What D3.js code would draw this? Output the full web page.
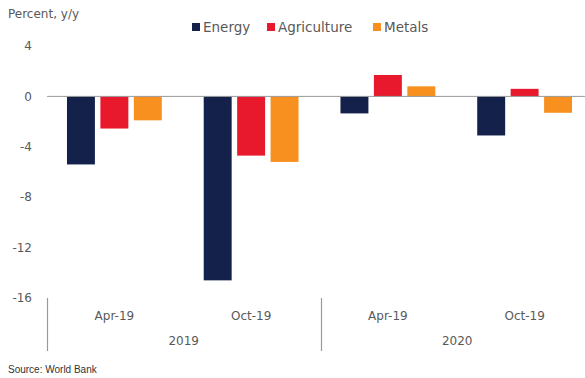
<!DOCTYPE html>
<html>
<head>
<meta charset="utf-8">
<script src="https://cdn.jsdelivr.net/npm/d3@7"></script>
<style>
  body { margin: 0; background: #fff; }
  svg text { font-family: "DejaVu Sans", Verdana, sans-serif; fill: #595959; }
</style>
</head>
<body>
<div id="chart"></div>
<script>
// data
const years = ['2019', '2020'];
const months = ['Apr-19', 'Oct-19'];
const seriesNames = ['Energy', 'Agriculture', 'Metals'];
const energy = [-5.4, -14.6, -1.35, -3.1];
const agriculture = [-2.55, -4.7, 1.7, 0.6];
const metals = [-1.9, -5.2, 0.8, -1.3];
const yTicks = [4, 0, -4, -8, -12, -16];
const colors = ['#14224b', '#e8192c', '#f7901e'];

const width = 585, height = 378;
const margin = { top: 46, right: -8, bottom: 80, left: 46 };

const groups = [];
years.forEach(y => months.forEach(m => groups.push(y + '|' + m)));
const series = [energy, agriculture, metals];
const rows = groups.map((g, i) => ({
  key: g,
  values: seriesNames.map((s, j) => ({ name: s, value: series[j][i] }))
}));

const svg = d3.select('#chart').append('svg')
  .attr('width', width)
  .attr('height', height);

const x0 = d3.scaleBand()
  .domain(groups)
  .range([margin.left, width - margin.right])
  .paddingInner(0)
  .paddingOuter(0);

const x1 = d3.scaleBand()
  .domain(seriesNames)
  .range([0, x0.bandwidth()])
  .paddingInner(0.164)
  .paddingOuter(0.627);

const y = d3.scaleLinear()
  .domain([-16, 4])
  .range([height - margin.bottom, margin.top]);

// y axis labels
svg.append('g')
  .selectAll('text')
  .data(yTicks)
  .enter().append('text')
  .attr('x', 32)
  .attr('y', d => y(d))
  .attr('dy', '0.35em')
  .attr('text-anchor', 'end')
  .style('font-size', '12px')
  .text(d => d);

// bars
const g = svg.append('g')
  .selectAll('g')
  .data(rows)
  .enter().append('g')
  .attr('transform', d => `translate(${x0(d.key)},0)`);

g.selectAll('rect')
  .data(d => d.values)
  .enter().append('rect')
  .attr('x', d => x1(d.name))
  .attr('y', d => y(Math.max(0, d.value)))
  .attr('width', x1.bandwidth())
  .attr('height', d => Math.abs(y(d.value) - y(0)))
  .attr('fill', (d, i) => colors[i]);

// zero line
svg.append('line')
  .attr('x1', margin.left + 1)
  .attr('x2', width)
  .attr('y1', y(0))
  .attr('y2', y(0))
  .attr('stroke', '#9a9a9a')
  .attr('stroke-width', 1);

// category axis: months then years
svg.append('g')
  .selectAll('text')
  .data(groups)
  .enter().append('text')
  .attr('x', d => x0(d) + x0.bandwidth() / 2)
  .attr('y', 320)
  .attr('text-anchor', 'middle')
  .style('font-size', '12px')
  .text(d => d.split('|')[1]);

const yearW = x0.bandwidth() * months.length;
svg.append('g')
  .selectAll('text')
  .data(years)
  .enter().append('text')
  .attr('x', (d, i) => margin.left + 1 + yearW * i + yearW / 2)
  .attr('y', 345)
  .attr('text-anchor', 'middle')
  .style('font-size', '12px')
  .text(d => d);

svg.append('g')
  .selectAll('line')
  .data(years)
  .enter().append('line')
  .attr('x1', (d, i) => Math.round(margin.left + 1 + yearW * i) + 0.5)
  .attr('x2', (d, i) => Math.round(margin.left + 1 + yearW * i) + 0.5)
  .attr('y1', 298)
  .attr('y2', 351)
  .attr('stroke', '#9a9a9a')
  .attr('stroke-width', 1.2);

// title
svg.append('text')
  .attr('x', 8)
  .attr('y', 18)
  .style('font-size', '12px')
  .text('Percent, y/y');

// legend
const legendX = [192, 267, 373];
const legend = svg.append('g')
  .selectAll('g')
  .data(seriesNames)
  .enter().append('g')
  .attr('transform', (d, i) => `translate(${legendX[i]},23)`);

legend.append('rect')
  .attr('width', 8)
  .attr('height', 8)
  .attr('fill', (d, i) => colors[i]);

legend.append('text')
  .attr('x', 11)
  .attr('y', 4)
  .attr('dy', '0.35em')
  .style('font-size', '13.5px')
  .text(d => d);

// source
svg.append('text')
  .attr('x', 8)
  .attr('y', 373)
  .style('font-family', 'Arial, "Liberation Sans", sans-serif')
  .style('font-size', '10px')
  .style('fill', '#333')
  .text('Source: World Bank');
</script>
</body>
</html>
